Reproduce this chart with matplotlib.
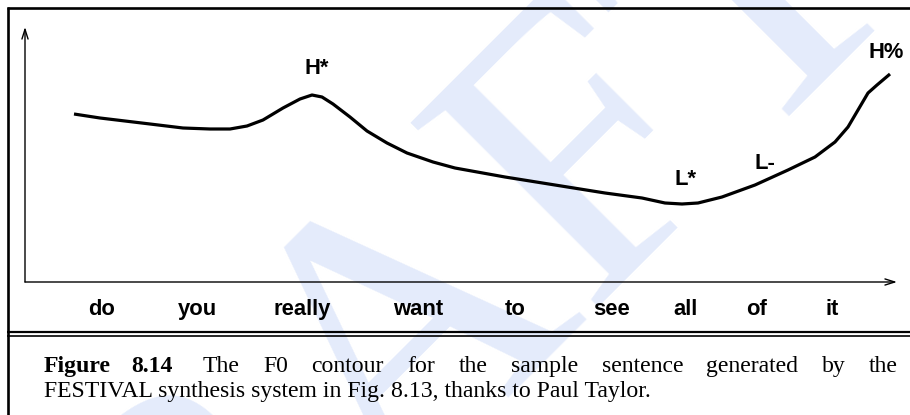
import matplotlib
matplotlib.use('Agg')
import matplotlib.pyplot as plt
from matplotlib.lines import Line2D

# F0 contour (arbitrary units)
time = [49, 75, 125, 158, 185, 205, 222, 238, 258, 275, 287, 297, 308, 325,
        342, 362, 382, 408, 430, 480, 530, 580, 617, 640, 657, 673, 697, 730,
        763, 790, 810, 823, 833, 843, 852, 865]
f0 = [168, 164, 158, 154, 153, 153, 156, 162, 174, 183, 187, 185, 178, 165,
      151, 139, 129, 120, 114, 105, 97, 89, 84, 79, 78, 79, 85, 97,
      112, 125, 140, 155, 172, 189, 197, 208]

# words of the sentence and where they sit on the time axis
words = ['do', 'you', 'really', 'want', 'to', 'see', 'all', 'of', 'it']
word_pos = [77, 172, 277, 393, 490, 587, 660, 732, 807]

# tone labels
tones = ['H*', 'L*', 'L-', 'H%']
tone_x = [292, 661, 740, 861]
tone_y = [208, 97, 113, 224]

caption1 = ['The', 'F0', 'contour', 'for', 'the', 'sample', 'sentence',
            'generated', 'by', 'the']
caption2 = 'FESTIVAL synthesis system in Fig. 8.13, thanks to Paul Taylor.'

W, H = 910, 415
fig = plt.figure(figsize=(W / 100, H / 100), dpi=100)

# faint DRAFT watermark behind everything
fig.text(-11 / W, 1 - 906 / H, 'DRAFT', fontsize=288, family='Liberation Serif',
         color='#e4ebfb', rotation=45, rotation_mode='anchor',
         ha='left', va='baseline', zorder=-5)

# plot area
ax = fig.add_axes([25 / W, 1 - 282 / H, 872 / W, 255 / H])
ax.patch.set_alpha(0)
ax.set_xlim(0, 872)
ax.set_ylim(0, 255)
for s in ax.spines.values():
    s.set_visible(False)
ax.set_xticks([])
ax.set_yticks([])

ax.plot(time, f0, color='black', lw=2.3, solid_capstyle='butt',
        solid_joinstyle='round')

arrow = dict(arrowstyle='->,head_length=0.7,head_width=0.22', lw=1.0, color='black',
             shrinkA=0, shrinkB=0)
ax.annotate('', xy=(1, 0), xytext=(0, 0), xycoords='axes fraction', arrowprops=arrow)
ax.annotate('', xy=(0, 1), xytext=(0, 0), xycoords='axes fraction', arrowprops=arrow)

sans = dict(family='Liberation Sans', fontweight='bold', fontsize=15.8)
for w, x in zip(words, word_pos):
    ax.text(x, -33, w, ha='center', va='baseline', clip_on=False, **sans)
for t, x, y in zip(tones, tone_x, tone_y):
    ax.text(x, y, t, ha='center', va='baseline', **sans)

# frame lines
def hline(y, x0, x1, lw):
    fig.add_artist(Line2D([x0 / W, x1 / W], [1 - y / H, 1 - y / H], lw=lw,
                          color='black', transform=fig.transFigure,
                          solid_capstyle='butt'))

def vline(x, y0, y1, lw):
    fig.add_artist(Line2D([x / W, x / W], [1 - y0 / H, 1 - y1 / H], lw=lw,
                          color='black', transform=fig.transFigure,
                          solid_capstyle='butt'))

hline(8.5, 7, W, 1.9)
vline(8, 7.5, H, 1.9)
hline(331.5, 7, W, 1.6)
hline(335.5, 7, W, 1.2)

# caption, first line justified between 44 and 898 px
serif = dict(family='Liberation Serif', fontsize=17.1, va='baseline')
y1 = 1 - 372 / H
y2 = 1 - 397 / H
fig_lbl = fig.text(44 / W, y1, 'Figure', fontweight='bold', **serif)
num_lbl = fig.text(0, y1, '8.14', fontweight='bold', **serif)
rest = [fig.text(0, y1, w, **serif) for w in caption1]
fig.text(44 / W, y2, caption2, **serif)

fig.canvas.draw()
r = fig.canvas.get_renderer()
wid = lambda t: t.get_window_extent(r).width
x = 44 + wid(fig_lbl) + 20
num_lbl.set_x(x / W)
x += wid(num_lbl)
total = sum(wid(t) for t in rest)
gap = (898 - x - 7 - total) / len(rest)
x += gap + 7
for t in rest:
    t.set_x(x / W)
    x += wid(t) + gap

fig.savefig('out.png', dpi=100)
